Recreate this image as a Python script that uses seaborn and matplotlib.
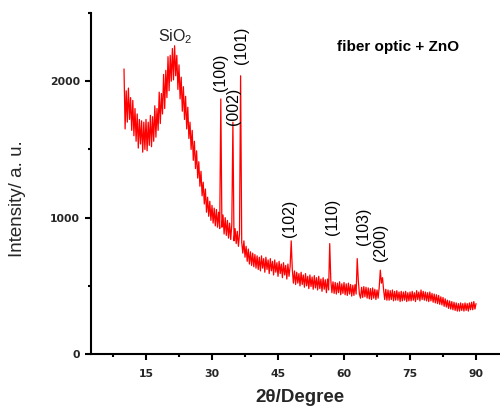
import numpy as np
import pandas as pd
import matplotlib
matplotlib.use("Agg")
import matplotlib.pyplot as plt
import seaborn as sns

# XRD scan: 2theta from 10 to 90 deg, 0.25 deg step
scan_start = 10.0
scan_step = 0.25

counts_10_30 = [
    2090, 1650, 1930, 1700, 1950, 1720, 1880, 1640, 1860, 1600, 1800, 1560, 1760, 1510, 1720, 1540, 1710, 1480, 1700, 1500,
    1720, 1490, 1700, 1530, 1750, 1520, 1740, 1560, 1820, 1590, 1800, 1640, 1920, 1690, 1910, 1760, 2050, 1800, 2080, 1880,
    2180, 1930, 2190, 2000, 2240, 2010, 2260, 2040, 2190, 1940, 2120, 1870, 2030, 1780, 1960, 1720, 1890, 1650, 1810, 1580,
    1700, 1500, 1640, 1420, 1560, 1360, 1490, 1290, 1410, 1230, 1340, 1160, 1260, 1100, 1210, 1040, 1150, 1010, 1120, 980,
]
counts_30_50 = [
    1090, 960, 1070, 940, 1060, 930, 1040, 920, 1870, 930, 1020, 880, 1000, 870, 980, 850, 960, 840, 950, 1700,
    830, 920, 810, 900, 790, 880, 2040, 820, 740, 830, 710, 790, 680, 770, 660, 750, 650, 740, 640, 730,
    630, 720, 620, 710, 610, 720, 630, 700, 600, 710, 620, 690, 590, 700, 610, 680, 580, 690, 600, 670,
    570, 680, 590, 660, 560, 670, 580, 650, 550, 660, 570, 640, 830, 620, 520, 610, 510, 600, 520, 590,
]
counts_50_70 = [
    500, 600, 510, 580, 490, 590, 500, 570, 480, 580, 495, 565, 475, 575, 485, 560, 470, 570, 480, 550,
    460, 560, 475, 545, 450, 550, 470, 810, 540, 450, 530, 445, 525, 440, 520, 450, 530, 435, 515, 445,
    525, 435, 515, 430, 520, 440, 510, 425, 505, 430, 510, 440, 700, 540, 440, 410, 490, 415, 495, 420,
    490, 410, 485, 405, 480, 400, 485, 410, 475, 400, 470, 410, 490, 615, 520, 560, 470, 400, 475, 395,
]
counts_70_90 = [
    470, 395, 465, 400, 470, 390, 460, 395, 465, 395, 455, 385, 460, 390, 455, 395, 460, 385, 450, 390,
    455, 390, 460, 395, 450, 385, 465, 400, 455, 390, 470, 400, 460, 395, 455, 390, 450, 385, 455, 390,
    445, 380, 440, 375, 435, 370, 430, 365, 420, 360, 415, 350, 405, 345, 395, 335, 390, 330, 385, 325,
    380, 320, 375, 315, 370, 315, 375, 320, 370, 315, 375, 320, 370, 315, 375, 325, 380, 325, 385, 330, 370,
]

# peak labels (hkl) and where the text sits
peak_labels = ["(100)", "(002)", "(101)", "(102)", "(110)", "(103)", "(200)"]
label_x = [32.0, 34.8, 36.8, 47.7, 57.3, 64.5, 68.2]
label_y = [2066, 1818, 2263, 993, 1007, 934, 818]

intensity = counts_10_30 + counts_30_50 + counts_50_70 + counts_70_90
two_theta = scan_start + scan_step * np.arange(len(intensity))
df = pd.DataFrame({"two_theta": two_theta, "intensity": intensity})

sns.set_style("ticks")
plt.rcParams["font.family"] = ["Liberation Sans", "DejaVu Sans"]
plt.rcParams["mathtext.fontset"] = "custom"
plt.rcParams["mathtext.rm"] = "Liberation Sans"

fig = plt.figure(figsize=(5, 4.07), dpi=100)
ax = fig.add_axes([0.182, 0.130, 0.818, 0.838])

sns.lineplot(data=df, x="two_theta", y="intensity", ax=ax, color="#ff0000",
             lw=0.9, estimator=None, sort=False)

ax.set_xlim(2.5, 95.45)
ax.set_ylim(0, 2500)
ax.set_xticks([15, 30, 45, 60, 75, 90])
ax.set_xticks([7.5, 22.5, 37.5, 52.5, 67.5, 82.5], minor=True)
ax.set_yticks([0, 1000, 2000])
ax.set_yticks([500, 1500, 2500], minor=True)
ax.set_xlabel("")
ax.set_ylabel("")
sns.despine(ax=ax)
for s in ["left", "bottom"]:
    ax.spines[s].set_linewidth(1.5)
    ax.spines[s].set_color("black")
ax.tick_params(which="major", length=4.5, width=1.5, color="black", direction="out")
ax.tick_params(which="minor", length=2.5, width=1.5, color="black", direction="out")
ax.tick_params(axis="x", which="major", pad=6.5)
ax.tick_params(axis="y", which="major", pad=3.5)
for lab in ax.get_xticklabels() + ax.get_yticklabels():
    lab.set_fontfamily("DejaVu Sans")
    lab.set_fontweight("bold")
    lab.set_fontsize(7.8)

for txt, x, y in zip(peak_labels, label_x, label_y):
    ax.text(x, y, txt, rotation=90, ha="center", va="center", fontsize=11.5, color="black")

ax.text(21.6, 2330, "SiO$_2$", ha="center", va="center", fontsize=11.5, color="#222222")
ax.text(72.3, 2248, "fiber optic + ZnO", ha="center", va="center", fontsize=11,
        fontweight="bold", color="black")

fig.text(0.6, 0.012, "2θ/Degree", ha="center", va="baseline", fontsize=13.5, fontweight="bold")
fig.text(0.036, 0.513, "Intensity/ a. u.", ha="center", va="center", rotation=90, fontsize=13.5)

fig.savefig("out.png", dpi=100)
